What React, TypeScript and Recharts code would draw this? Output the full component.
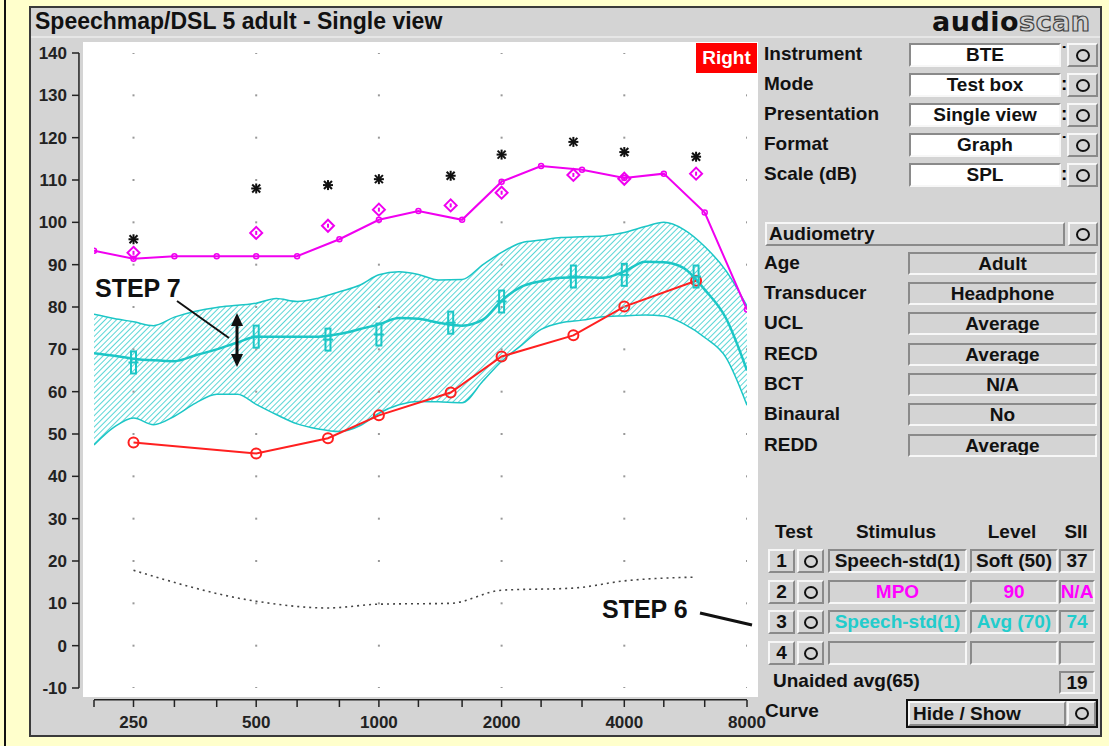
import React from "react";
import {
  Area,
  ComposedChart,
  Line,
  ReferenceLine,
  Scatter,
  XAxis,
  YAxis,
} from "recharts";

const FONT = '"Liberation Sans", Arial, Helvetica, sans-serif';
const MAGENTA = "#f000f0";
const RED = "#ff2020";
const CYAN = "#1cc6c6";

// axes
const thirdOctaveTicks = [200, 250, 315, 400, 500, 630, 800, 1000, 1250, 1600, 2000, 2500, 3150, 4000, 5000, 6300, 8000];
const octaveLabels = [250, 500, 1000, 2000, 4000, 8000];
const dbTicks = [-10, 0, 10, 20, 30, 40, 50, 60, 70, 80, 90, 100, 110, 120, 130, 140];

// audiometric frequencies (markers)
const audioFreqs = [250, 500, 750, 1000, 1500, 2000, 3000, 4000, 6000];
const uclStars = [96, 108, 108.8, 110.2, 111, 116, 119, 116.6, 115.5];
const mpoTargets = [92.8, 97.5, 99.2, 103, 104, 107, 111.2, 110.3, 111.5];
const softSpeech = [48, 45.4, 49, 54.4, 59.8, 68.3, 73.3, 80.1, 86.2];
const avgTargets = [66.9, 73, 72.3, 73.5, 76.3, 81.3, 87.2, 87.6, 87.2];
const thresholdSpl = [17.8, 10.5, 8.9, 9.8, 10.0, 13.1, 13.6, 15.3, 16.2];

// MPO curve, third octaves
const mpoCurve = [93.3, 91.4, 92, 92, 92, 92, 96, 100.6, 102.7, 100.6, 109.6, 113.3, 112.4, 110.5, 111.5, 102.3, 79.4];

// average speech band, sixth octaves
const bandFreqs = [200, 224, 250, 280, 315, 355, 400, 450, 500, 560, 630, 710, 800, 900, 1000, 1120, 1250, 1400, 1600, 1800, 2000, 2240, 2500, 2800, 3150, 3550, 4000, 4500, 5000, 5600, 6300, 7100, 8000];
const bandHigh = [78.3, 77.3, 76.5, 75.6, 77.6, 79.0, 79.9, 80.4, 80.9, 82.0, 81.3, 82.1, 83.6, 85.2, 87.6, 88.3, 87.7, 86.4, 86.5, 90.0, 92.9, 95.2, 95.8, 96.4, 96.6, 96.8, 97.6, 99.0, 100.0, 98.3, 94.3, 88.6, 80.2];
const bandLow = [47.4, 51.6, 53.8, 52.2, 54.2, 57.3, 59.4, 59.4, 57.0, 54.6, 52.4, 51.2, 50.6, 52.0, 54.9, 56.9, 57.7, 57.6, 57.4, 62.5, 67.2, 71.0, 74.7, 76.3, 76.9, 77.7, 77.9, 78.1, 77.9, 76.0, 72.8, 68.1, 56.8];
const ltass = [69.1, 68.5, 67.8, 67.4, 67.2, 68.6, 70.0, 71.6, 73.0, 73.0, 73.0, 73.0, 73.6, 74.8, 75.9, 77.4, 77.2, 76.3, 75.6, 77.0, 81.5, 84.8, 86.1, 86.9, 87.0, 86.9, 88.4, 90.7, 90.6, 89.2, 84.1, 77.4, 65.0];

// right panel
const setupLabels = ["Instrument", "Mode", "Presentation", "Format", "Scale (dB)"];
const setupValues = ["BTE", "Test box", "Single view", "Graph", "SPL"];
const setupMarks = ["˙", ":", ":", "˙", ":"];
const audioLabels = ["Age", "Transducer", "UCL", "RECD", "BCT", "Binaural", "REDD"];
const audioValues = ["Adult", "Headphone", "Average", "Average", "N/A", "No", "Average"];
const testStimulus = ["Speech-std(1)", "MPO", "Speech-std(1)", ""];
const testLevel = ["Soft (50)", "90", "Avg (70)", ""];
const testSii = ["37", "N/A", "74", ""];
const testColors = ["#111", "#ff00ff", "#22cccc", "#111"];

// where the axis lines sit (edges of the padded plot)
const freqAtYAxis = 183.7;
const dbAtXAxis = -12.8;

const pts = (fs: number[], vs: number[]) => fs.map((f, i) => ({ f, v: vs[i] }));
const bandData = bandFreqs.map((f, i) => ({ f, range: [bandLow[i], bandHigh[i]] }));
const ltassData = pts(bandFreqs, ltass);
const mpoData = pts(thirdOctaveTicks, mpoCurve);
const gridDots = octaveLabels.flatMap((f) => dbTicks.map((v) => ({ f, v })));

const GridDot = (p: any) => <rect x={p.cx - 1} y={p.cy - 1} width={2} height={2} fill="#999" />;

const Star = (p: any) => (
  <g stroke="#111" strokeWidth={2}>
    <line x1={p.cx - 5} y1={p.cy} x2={p.cx + 5} y2={p.cy} />
    <line x1={p.cx} y1={p.cy - 5} x2={p.cx} y2={p.cy + 5} />
    <line x1={p.cx - 4} y1={p.cy - 4} x2={p.cx + 4} y2={p.cy + 4} />
    <line x1={p.cx - 4} y1={p.cy + 4} x2={p.cx + 4} y2={p.cy - 4} />
  </g>
);

const Diamond = (p: any) => (
  <g stroke={MAGENTA} strokeWidth={2} fill="none">
    <path d={`M${p.cx},${p.cy - 6} L${p.cx + 6},${p.cy} L${p.cx},${p.cy + 6} L${p.cx - 6},${p.cy} Z`} />
    <line x1={p.cx} y1={p.cy - 2} x2={p.cx} y2={p.cy + 2} />
  </g>
);

const TargetBar = (p: any) => (
  <g stroke={CYAN} strokeWidth={2} fill="none">
    <rect x={p.cx - 2.5} y={p.cy - 11} width={5} height={22} />
    <line x1={p.cx - 5} y1={p.cy} x2={p.cx + 5} y2={p.cy} />
  </g>
);

const light = "#f7f7f7";
const dark = "#8a8a8a";

function Box({ x, y, w, h, kind, children, align = "center", color = "#111", pad = 0 }: any) {
  const borderColor = kind === "raised" ? `${light} ${dark} ${dark} ${light}` : `${dark} ${light} ${light} ${dark}`;
  return (
    <div
      style={{
        position: "absolute",
        left: x,
        top: y,
        width: w,
        height: h,
        boxSizing: "border-box",
        borderWidth: 2,
        borderStyle: "solid",
        borderColor,
        background: kind === "white" ? "#fff" : "#d4d4d4",
        display: "flex",
        alignItems: "center",
        justifyContent: align,
        paddingLeft: pad,
        color,
        font: `bold 19px ${FONT}`,
        whiteSpace: "nowrap",
        overflow: "hidden",
      }}
    >
      {children}
    </div>
  );
}

const Circle = () => (
  <div style={{ width: 14, height: 13, borderRadius: "50%", border: "2px solid #111", boxSizing: "border-box" }} />
);

function Label({ x, cy, children, color = "#111", anchor = "left" }: any) {
  return (
    <div
      style={{
        position: "absolute",
        left: anchor === "center" ? x - 100 : x,
        width: anchor === "center" ? 200 : undefined,
        textAlign: anchor === "center" ? "center" : "left",
        top: cy - 12,
        lineHeight: "24px",
        font: `bold 19px ${FONT}`,
        color,
        whiteSpace: "nowrap",
      }}
    >
      {children}
    </div>
  );
}

export default function App() {
  const setupRows = [55, 85, 115, 145, 175];
  const audioRows = [264, 294, 324, 355, 385, 415, 446];
  const testRows = [561, 592, 622, 653];

  return (
    <div style={{ position: "absolute", left: 0, top: 0, width: 1109, height: 746, overflow: "hidden", background: "#ffffcc" }}>
      <div style={{ position: "absolute", left: 4, top: 0, width: 2, height: 746, background: "#111" }} />
      <div
        style={{
          position: "absolute",
          left: 29,
          top: 6,
          width: 1073,
          height: 731,
          boxSizing: "border-box",
          border: "2px solid #3a3a3a",
          background: "#d4d4d4",
        }}
      />
      <div style={{ position: "absolute", left: 31, top: 36, width: 1069, height: 2, background: "#e6e6e6" }} />
      <div style={{ position: "absolute", left: 35, top: 8, lineHeight: "28px", font: `bold 23px ${FONT}`, color: "#111" }}>
        Speechmap/DSL 5 adult - Single view
      </div>
      <div
        style={{
          position: "absolute",
          left: 932,
          top: 6,
          lineHeight: "32px",
          font: `900 27px "DejaVu Sans", sans-serif`,
          letterSpacing: 0.5,
        }}
      >
        <span style={{ color: "#111" }}>audio</span>
        <span style={{ color: "#d4d4d4", WebkitTextStroke: "1.2px #444" }}>scan</span>
      </div>

      {/* plot background */}
      <div style={{ position: "absolute", left: 83, top: 42, width: 675, height: 655, background: "#fff" }} />

      <div style={{ position: "absolute", left: 0, top: 0 }}>
        <ComposedChart width={790} height={746} margin={{ top: 42, right: 32, bottom: 16, left: 29 }}>
          <defs>
            <pattern id="hatch" patternUnits="userSpaceOnUse" width={4} height={4} patternTransform="rotate(45)">
              <line x1={0} y1={0} x2={0} y2={4} stroke="#3ccfcf" strokeWidth={1.7} />
            </pattern>
          </defs>
          <XAxis
            dataKey="f"
            type="number"
            scale="log"
            domain={[200, 8000]}
            allowDataOverflow
            ticks={thirdOctaveTicks}
            interval={0}
            tickFormatter={(v: number) => (octaveLabels.includes(v) ? String(v) : "")}
            padding={{ left: 15, right: 11 }}
            axisLine={false}
            tickLine={{ stroke: "#222", strokeWidth: 1.5 }}
            tickSize={7}
            tickMargin={9}
            height={30}
            tick={{ fill: "#222", fontSize: 17, fontWeight: "bold", fontFamily: FONT }}
          />
          <YAxis
            dataKey="v"
            type="number"
            domain={[-10, 140]}
            allowDataOverflow
            ticks={dbTicks}
            interval={0}
            padding={{ top: 11, bottom: 12 }}
            axisLine={false}
            tickLine={{ stroke: "#222", strokeWidth: 1.5 }}
            tickSize={7}
            tickMargin={5}
            width={50}
            tick={{ fill: "#222", fontSize: 17, fontWeight: "bold", fontFamily: FONT }}
          />
          <ReferenceLine
            segment={[{ x: 200, y: dbAtXAxis }, { x: 8000, y: dbAtXAxis }]}
            stroke="#222"
            strokeWidth={1.5}
            ifOverflow="visible"
          />
          <ReferenceLine
            segment={[{ x: freqAtYAxis, y: -10 }, { x: freqAtYAxis, y: 140 }]}
            stroke="#222"
            strokeWidth={1.5}
            ifOverflow="visible"
          />
          <Scatter data={gridDots} shape={GridDot} isAnimationActive={false} />
          <Area
            data={bandData}
            dataKey="range"
            type="monotone"
            stroke={CYAN}
            strokeWidth={1.5}
            fill="url(#hatch)"
            fillOpacity={1}
            isAnimationActive={false}
          />
          <Line data={ltassData} dataKey="v" type="monotone" stroke={CYAN} strokeWidth={2.5} dot={false} isAnimationActive={false} />
          <Line
            data={pts(audioFreqs, thresholdSpl)}
            dataKey="v"
            type="monotone"
            stroke="#444"
            strokeWidth={1.6}
            strokeDasharray="2 4"
            dot={false}
            isAnimationActive={false}
          />
          <Line
            data={pts(audioFreqs, softSpeech)}
            dataKey="v"
            type="linear"
            stroke={RED}
            strokeWidth={2}
            dot={{ r: 5, stroke: RED, strokeWidth: 2, fill: "none" }}
            isAnimationActive={false}
          />
          <Line
            data={mpoData}
            dataKey="v"
            type="linear"
            stroke={MAGENTA}
            strokeWidth={2}
            dot={{ r: 2.5, stroke: MAGENTA, strokeWidth: 1.5, fill: "none" }}
            isAnimationActive={false}
          />
          <Scatter data={pts(audioFreqs, avgTargets)} shape={TargetBar} isAnimationActive={false} />
          <Scatter data={pts(audioFreqs, mpoTargets)} shape={Diamond} isAnimationActive={false} />
          <Scatter data={pts(audioFreqs, uclStars)} shape={Star} isAnimationActive={false} />
        </ComposedChart>
      </div>

      {/* annotations */}
      <svg width={1109} height={746} style={{ position: "absolute", left: 0, top: 0, pointerEvents: "none" }}>
        <text x={95} y={297} fontSize={25} fontWeight="bold" fontFamily={FONT} fill="#111">STEP 7</text>
        <line x1={177} y1={301} x2={229} y2={338} stroke="#111" strokeWidth={2} />
        <line x1={237} y1={322} x2={237} y2={358} stroke="#111" strokeWidth={3} />
        <path d="M237,313 L231,326 L243,326 Z" fill="#111" />
        <path d="M237,367 L231,354 L243,354 Z" fill="#111" />
        <text x={602} y={618} fontSize={25} fontWeight="bold" fontFamily={FONT} fill="#111">STEP 6</text>
        <line x1={700} y1={613} x2={752} y2={625} stroke="#111" strokeWidth={3} />
      </svg>

      <div
        style={{
          position: "absolute",
          left: 696,
          top: 43,
          width: 61,
          height: 30,
          background: "#ff0000",
          color: "#fff",
          font: `bold 19px ${FONT}`,
          display: "flex",
          alignItems: "center",
          justifyContent: "center",
        }}
      >
        Right
      </div>

      {/* settings */}
      {setupLabels.map((l, i) => (
        <React.Fragment key={l}>
          <Label x={764} cy={setupRows[i]}>{l}</Label>
          <Box x={909} y={setupRows[i] - 12} w={152} h={24} kind="white">{setupValues[i]}</Box>
          <div style={{ position: "absolute", left: 1061, top: setupRows[i] - 13, font: `bold 19px ${FONT}`, lineHeight: "24px" }}>
            {setupMarks[i]}
          </div>
          <Box x={1067} y={setupRows[i] - 12} w={31} h={24} kind="raised"><Circle /></Box>
        </React.Fragment>
      ))}

      <Box x={765} y={222} w={300} h={24} kind="raised" align="flex-start" pad={2}>Audiometry</Box>
      <Box x={1068} y={222} w={30} h={24} kind="raised"><Circle /></Box>
      {audioLabels.map((l, i) => (
        <React.Fragment key={l}>
          <Label x={764} cy={audioRows[i]}>{l}</Label>
          <Box x={908} y={audioRows[i] - 12} w={189} h={23} kind="sunken">{audioValues[i]}</Box>
        </React.Fragment>
      ))}

      {/* tests */}
      <Label x={775} cy={533}>Test</Label>
      <Label x={896} cy={533} anchor="center">Stimulus</Label>
      <Label x={1012} cy={533} anchor="center">Level</Label>
      <Label x={1076} cy={533} anchor="center">SII</Label>
      {testRows.map((cy, i) => (
        <React.Fragment key={cy}>
          <Box x={768} y={cy - 12} w={27} h={24} kind="raised">{i + 1}</Box>
          <Box x={797} y={cy - 12} w={27} h={24} kind="raised"><Circle /></Box>
          <Box x={828} y={cy - 12} w={139} h={24} kind="sunken" color={testColors[i]}>{testStimulus[i]}</Box>
          <Box x={970} y={cy - 12} w={88} h={24} kind="sunken" color={testColors[i]}>{testLevel[i]}</Box>
          <Box x={1059} y={cy - 12} w={36} h={24} kind="sunken" color={testColors[i]}>{testSii[i]}</Box>
        </React.Fragment>
      ))}
      <Label x={773} cy={682}>Unaided avg(65)</Label>
      <Box x={1059} y={671} w={36} h={23} kind="sunken">19</Box>

      <Label x={765} cy={712}>Curve</Label>
      <div
        style={{
          position: "absolute",
          left: 906,
          top: 699,
          width: 192,
          height: 29,
          boxSizing: "border-box",
          border: "2px solid #111",
          background: "#d4d4d4",
        }}
      />
      <Box x={908} y={701} w={158} h={25} kind="raised" align="flex-start" pad={3}>Hide / Show</Box>
      <Box x={1067} y={701} w={29} h={25} kind="raised"><Circle /></Box>
    </div>
  );
}
